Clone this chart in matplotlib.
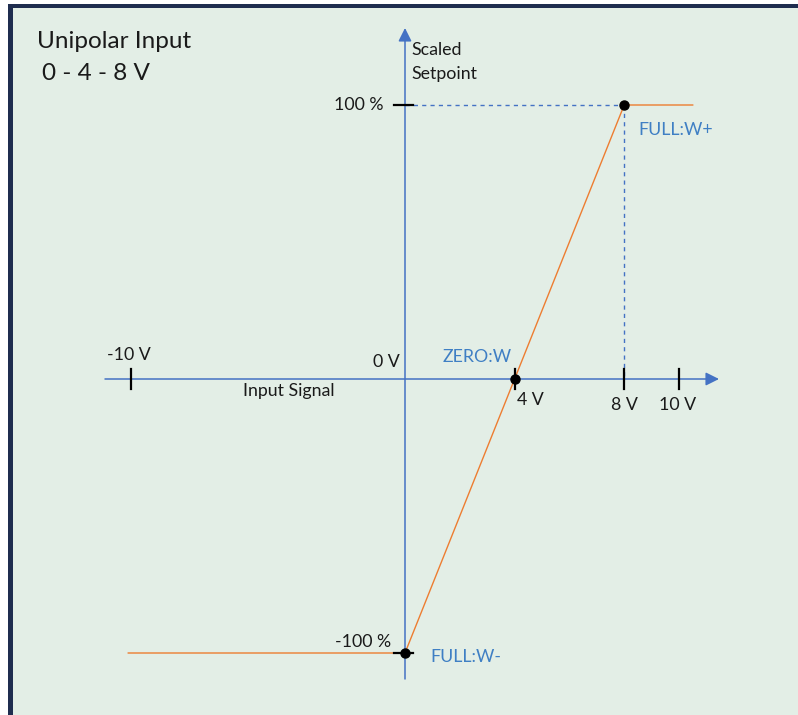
import matplotlib.pyplot as plt
import matplotlib.patches as mpatches

# characteristic curve: input voltage -> scaled setpoint
signal_v = [-10.1, 0, 8, 10.5]
setpoint_pct = [-100, -100, 100, 100]

# marked points (FULL:W-, ZERO:W, FULL:W+)
point_v = [0, 4, 8]
point_pct = [-100, 0, 100]

# axis ticks
xtick_v = [-10, 4, 8, 10]
xtick_labels = ["-10 V", "4 V", "8 V", "10 V"]
ytick_pct = [100, -100]
ytick_labels = ["100 %", "-100 %"]

W, H = 798, 715
X0, Y0 = 405, 379      # pixel position of origin
SX, SY = 27.4, 2.74    # pixels per volt / per percent


def X(px):
    return (px - X0) / SX


def Y(py):
    return (Y0 - py) / SY


plt.rcParams['font.family'] = ['Lato', 'DejaVu Sans']

fig = plt.figure(figsize=(W / 100, H / 100), dpi=100)
fig.patch.set_facecolor('white')

# background panel and navy frame (top and left)
bg = '#E3EEE6'
navy = '#1F2D4F'
for r in [mpatches.Rectangle((13 / W, 0), 1, 1 - 8 / H, facecolor=bg),
          mpatches.Rectangle((8 / W, 1 - 8 / H), 1, 4 / H, facecolor=navy),
          mpatches.Rectangle((8 / W, 0), 5 / W, 1 - 4 / H, facecolor=navy)]:
    r.set_transform(fig.transFigure)
    r.set_edgecolor('none')
    r.set_zorder(-10)
    fig.patches.append(r)

ax = fig.add_axes([0, 0, 1, 1])
ax.set_xlim(X(0), X(W))
ax.set_ylim(Y(H), Y(0))
ax.axis('off')
ax.patch.set_alpha(0)

blue = '#4472C4'
orange = '#ED7D31'
lblue = '#3F7FC4'
txt = '#1A1A1A'

# axes with arrow heads
ax.annotate('', xy=(X(719), 0), xytext=(X(105), 0),
            arrowprops=dict(arrowstyle='-|>', color=blue, lw=1.1, mutation_scale=20,
                            shrinkA=0, shrinkB=0))
ax.annotate('', xy=(0, Y(28)), xytext=(0, Y(679)),
            arrowprops=dict(arrowstyle='-|>', color=blue, lw=1.1, mutation_scale=20,
                            shrinkA=0, shrinkB=0))

# dashed guides to FULL:W+
ax.plot([0, point_v[2]], [point_pct[2], point_pct[2]], color=blue, lw=1, ls=(0, (3, 3)))
ax.plot([point_v[2], point_v[2]], [point_pct[2], 0], color=blue, lw=1, ls=(0, (3, 3)))

# ticks
for v in xtick_v:
    ax.plot([v, v], [Y(369), Y(389)], color='black', lw=1.6, zorder=4)
for p in ytick_pct:
    ax.plot([X(394), X(413)], [p, p], color='black', lw=1.6, zorder=4)

# characteristic
ax.plot(signal_v, setpoint_pct, color=orange, lw=1.0, zorder=3)
ax.plot(point_v, point_pct, 'o', color='black', ms=6.5, zorder=5)

# tick labels
fs = 12.8
ax.text(X(107), Y(355), xtick_labels[0], fontsize=fs, color=txt, ha='left', va='center')
ax.text(X(517), Y(400), xtick_labels[1], fontsize=fs, color=txt, ha='left', va='center')
ax.text(X(624), Y(405), xtick_labels[2], fontsize=fs, color=txt, ha='center', va='center')
ax.text(X(678), Y(405), xtick_labels[3], fontsize=fs, color=txt, ha='center', va='center')
ax.text(X(384), Y(105), ytick_labels[0], fontsize=fs, color=txt, ha='right', va='center')
ax.text(X(391), Y(642), ytick_labels[1], fontsize=fs, color=txt, ha='right', va='center')
ax.text(X(400), Y(362), "0 V", fontsize=fs, color=txt, ha='right', va='center')

# axis titles
ax.text(X(243), Y(391), "Input Signal", fontsize=fs, color=txt, ha='left', va='center')
ax.text(X(411), Y(50), "Scaled", fontsize=fs, color=txt, ha='left', va='center')
ax.text(X(411), Y(74), "Setpoint", fontsize=fs, color=txt, ha='left', va='center')

# point labels
ax.text(X(638), Y(130), "FULL:W+", fontsize=fs, color=lblue, ha='left', va='center')
ax.text(X(443), Y(357), "ZERO:W", fontsize=fs, color=lblue, ha='left', va='center')
ax.text(X(430), Y(657), "FULL:W-", fontsize=fs, color=lblue, ha='left', va='center')

# title
ax.text(X(37), Y(41), "Unipolar Input", fontsize=17.5, color=txt, ha='left', va='center')
ax.text(X(42), Y(73), "0 - 4 - 8 V", fontsize=17.5, color=txt, ha='left', va='center')

fig.savefig('out.png', dpi=100, facecolor='white')
